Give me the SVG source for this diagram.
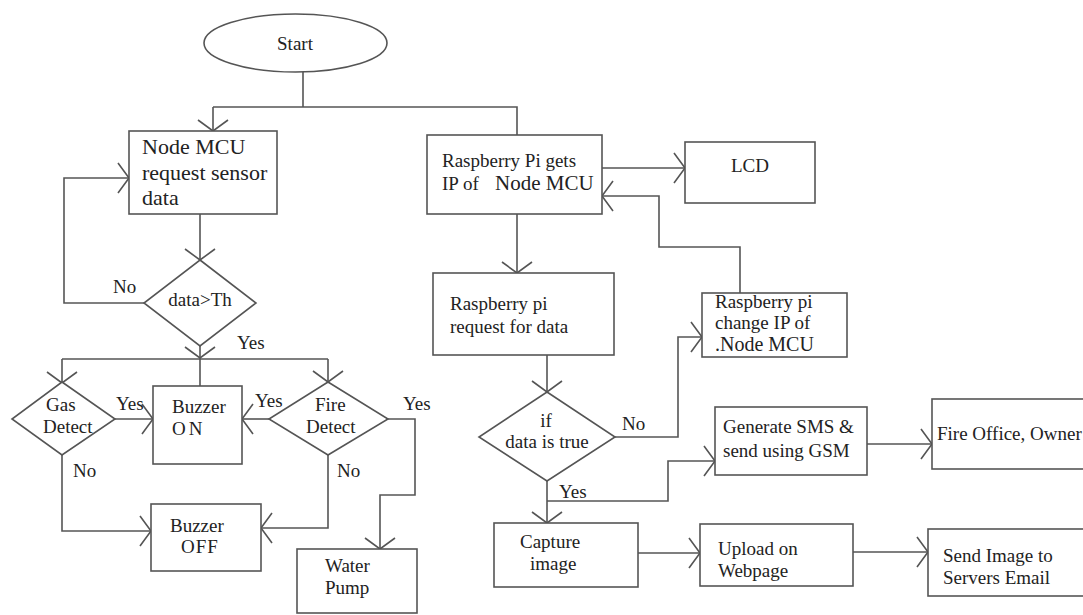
<svg xmlns="http://www.w3.org/2000/svg" width="1083" height="615" viewBox="0 0 1083 615">
<style>
.s{fill:#fff;stroke:#555;stroke-width:1.6}
.c{fill:none;stroke:#555;stroke-width:1.6}
text{font-family:"Liberation Serif","DejaVu Serif",serif;font-size:19px;fill:#222}
.m{text-anchor:middle}
</style>
<defs>
<marker id="a" markerUnits="userSpaceOnUse" markerWidth="30" markerHeight="40" viewBox="-15 -20 30 40" refX="0" refY="0" orient="auto" overflow="visible">
<path d="M-11,-15 L0,0 L-11,15" fill="none" stroke="#555" stroke-width="1.6"/>
</marker>
</defs>
<rect width="1083" height="615" fill="#fff"/>
<g id="connectors">
<path class="c" d="M303,72 V107 M213,107 H517 V135"/>
<path class="c" d="M213,107 V131" marker-end="url(#a)"/>
<path class="c" d="M200,214 V260" marker-end="url(#a)"/>
<path class="c" d="M144,303 H64 V178 H129" marker-end="url(#a)"/>
<path class="c" d="M200,345 V358" marker-end="url(#a)"/>
<path class="c" d="M200,358 V386 M62,359 H328"/>
<path class="c" d="M62,359 V383" marker-end="url(#a)"/>
<path class="c" d="M328,359 V382" marker-end="url(#a)"/>
<path class="c" d="M115,419 H153" marker-end="url(#a)"/>
<path class="c" d="M269,419 H242" marker-end="url(#a)"/>
<path class="c" d="M388,419 H415 V495 H380 V549" marker-end="url(#a)"/>
<path class="c" d="M62,455 V531 H151" marker-end="url(#a)"/>
<path class="c" d="M328,455 V528 H261" marker-end="url(#a)"/>
<path class="c" d="M602,168 H685" marker-end="url(#a)"/>
<path class="c" d="M740,293 V247 H659 V196 H602" marker-end="url(#a)"/>
<path class="c" d="M517,214 V273" marker-end="url(#a)"/>
<path class="c" d="M547,355 V392" marker-end="url(#a)"/>
<path class="c" d="M615,437 H678 V337 H702" marker-end="url(#a)"/>
<path class="c" d="M547,480 V523" marker-end="url(#a)"/>
<path class="c" d="M547,501 H668 V461 H715" marker-end="url(#a)"/>
<path class="c" d="M867,444 H932" marker-end="url(#a)"/>
<path class="c" d="M638,553 H700" marker-end="url(#a)"/>
<path class="c" d="M853,552 H928" marker-end="url(#a)"/>
<text x="113" y="293">No</text>
<text x="237" y="349">Yes</text>
<text x="116" y="410">Yes</text>
<text x="255" y="407">Yes</text>
<text x="403" y="410">Yes</text>
<text x="73" y="477">No</text>
<text x="337" y="477">No</text>
<text x="622" y="430">No</text>
<text x="559" y="498">Yes</text>
</g>
<g id="start">
<ellipse class="s" cx="295.5" cy="43" rx="91.5" ry="29"/>
<text class="m" x="295" y="50">Start</text>
</g>
<g id="nodemcu">
<rect class="s" x="129" y="131" width="148" height="83"/>
<text x="142" y="154" style="font-size:22px">Node MCU</text>
<text x="142" y="180" style="font-size:22px">request sensor</text>
<text x="142" y="205" style="font-size:22px">data</text>
</g>
<g id="datath">
<polygon class="s" points="200,260 256,303 200,346 144,303"/>
<text class="m" x="200" y="306">data&gt;Th</text>
</g>
<g id="gas">
<polygon class="s" points="62,382 115,419 62,455 12,419"/>
<text x="46" y="411">Gas</text>
<text x="43" y="433">Detect</text>
</g>
<g id="buzzeron">
<rect class="s" x="153" y="386" width="89" height="78"/>
<text x="172" y="413">Buzzer</text>
<text x="172" y="435" style="letter-spacing:3px">ON</text>
</g>
<g id="fire">
<polygon class="s" points="328,382 388,419 328,455 269,419"/>
<text x="315" y="411">Fire</text>
<text x="306" y="433">Detect</text>
</g>
<g id="buzzeroff">
<rect class="s" x="151" y="504" width="110" height="67"/>
<text x="170" y="532">Buzzer</text>
<text x="181" y="553" style="letter-spacing:1px">OFF</text>
</g>
<g id="pump">
<rect class="s" x="297" y="549" width="120" height="64"/>
<text x="325" y="572">Water</text>
<text x="325" y="594">Pump</text>
</g>
<g id="rpgets">
<rect class="s" x="427" y="135" width="175" height="79"/>
<text x="442" y="167">Raspberry Pi gets</text>
<text x="442" y="190">IP of</text>
<text x="495" y="190" style="font-size:21px">Node MCU</text>
</g>
<g id="lcd">
<rect class="s" x="685" y="142" width="130" height="61"/>
<text class="m" x="750" y="172">LCD</text>
</g>
<g id="rpreq">
<rect class="s" x="433" y="273" width="181" height="82"/>
<text x="450" y="310">Raspberry pi</text>
<text x="450" y="333">request for data</text>
</g>
<g id="rpchange">
<rect class="s" x="702" y="293" width="145" height="64"/>
<text x="715" y="308">Raspberry pi</text>
<text x="715" y="329">change IP of</text>
<text x="715" y="351" style="font-size:20px">.Node MCU</text>
</g>
<g id="iftrue">
<polygon class="s" points="547,392 615,437 547,481 479,437"/>
<text class="m" x="546" y="427">if</text>
<text class="m" x="547" y="448">data is true</text>
</g>
<g id="sms">
<rect class="s" x="715" y="407" width="152" height="68"/>
<text x="723" y="433">Generate SMS &amp;</text>
<text x="723" y="457">send using GSM</text>
</g>
<g id="fireoffice">
<rect class="s" x="932" y="399" width="160" height="70"/>
<text x="937" y="440">Fire Office, Owner</text>
</g>
<g id="capture">
<rect class="s" x="494" y="523" width="144" height="64"/>
<text x="520" y="548">Capture</text>
<text x="530" y="570">image</text>
</g>
<g id="upload">
<rect class="s" x="700" y="524" width="153" height="62"/>
<text x="718" y="555">Upload on</text>
<text x="718" y="577">Webpage</text>
</g>
<g id="sendimg">
<rect class="s" x="928" y="529" width="160" height="67"/>
<text x="943" y="562">Send Image to</text>
<text x="943" y="584">Servers Email</text>
</g>
</svg>
